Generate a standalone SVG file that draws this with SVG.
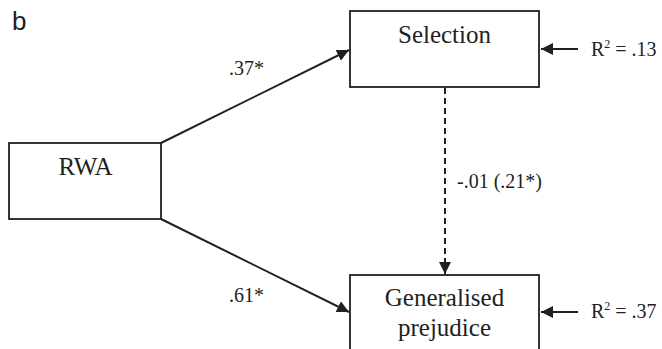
<svg xmlns="http://www.w3.org/2000/svg" width="662" height="349" viewBox="0 0 662 349">
<defs>
<style>
.box{fill:#fff;stroke:#231f20;stroke-width:1.8}
.lbl{font-family:"Liberation Serif","Times New Roman",serif;fill:#231f20}
.big{font-size:25px}
.sm{font-size:20px}
.ln{stroke:#231f20;stroke-width:2;fill:none}
</style>
<marker id="ah" viewBox="0 0 10 10" refX="10" refY="5" markerWidth="6" markerHeight="6" markerUnits="strokeWidth" orient="auto">
<path d="M0,0 L10,5 L0,10 z" fill="#231f20"/>
</marker>
</defs>
<rect width="662" height="349" fill="#fff"/>
<text x="12" y="30" font-family="Liberation Sans, Arial, sans-serif" font-size="26" fill="#231f20">b</text>
<g id="connectors">
<line class="ln" x1="161" y1="143" x2="349" y2="50" marker-end="url(#ah)"/>
<line class="ln" x1="161" y1="219" x2="349" y2="312" marker-end="url(#ah)"/>
<line class="ln" x1="445" y1="88" x2="445" y2="274" stroke-dasharray="6,4" marker-end="url(#ah)"/>
<line class="ln" x1="578" y1="49" x2="541" y2="49" marker-end="url(#ah)"/>
<line class="ln" x1="578" y1="312" x2="541" y2="312" marker-end="url(#ah)"/>
<text class="lbl sm" x="229" y="75">.37*</text>
<text class="lbl sm" x="229" y="302">.61*</text>
<text class="lbl sm" x="457" y="188">-.01 (.21*)</text>
<text class="lbl sm" x="591" y="56">R<tspan font-size="12" dy="-8">2</tspan><tspan dy="8"> = .13</tspan></text>
<text class="lbl sm" x="591" y="318">R<tspan font-size="12" dy="-8">2</tspan><tspan dy="8"> = .37</tspan></text>
</g>
<g id="rwa">
<rect class="box" x="9" y="143" width="152" height="76"/>
<text class="lbl big" x="85.5" y="175" text-anchor="middle">RWA</text>
</g>
<g id="selection">
<rect class="box" x="350" y="11" width="189" height="76"/>
<text class="lbl big" x="444.5" y="43" text-anchor="middle">Selection</text>
</g>
<g id="prejudice">
<rect class="box" x="350" y="275" width="189" height="76"/>
<text class="lbl big" x="444.5" y="306" text-anchor="middle">Generalised</text>
<text class="lbl big" x="444.5" y="336" text-anchor="middle">prejudice</text>
</g>
</svg>
